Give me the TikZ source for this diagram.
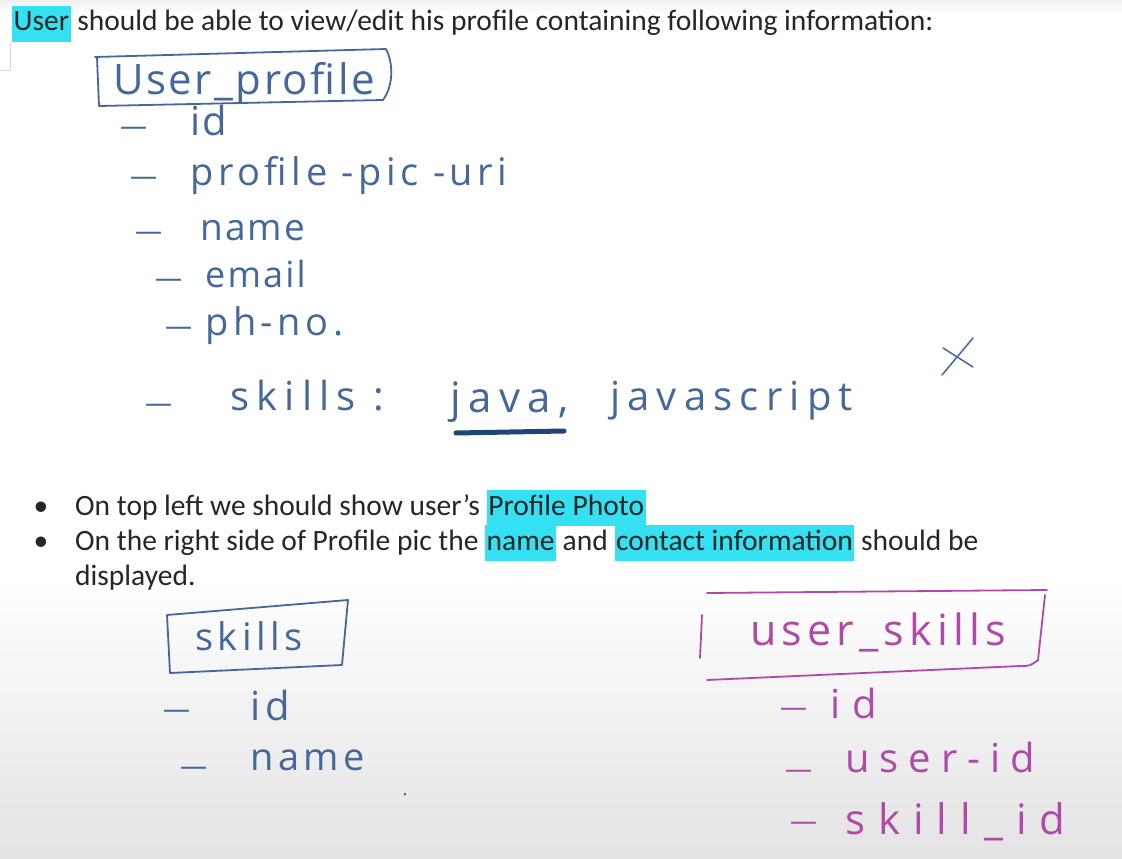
\documentclass[tikz,border=0pt]{standalone}
\usepackage{fontspec}
\setmainfont{Carlito}
\newfontfamily\handA[LetterSpace=6]{Open Sans}
\newfontfamily\handB[LetterSpace=12]{Open Sans}
\newfontfamily\handC[LetterSpace=18]{Open Sans}
\newfontfamily\handD[LetterSpace=25]{Open Sans}
\newfontfamily\handE[LetterSpace=31]{Open Sans}
\definecolor{inkb}{HTML}{45679A}
\definecolor{inkd}{HTML}{1E4674}
\definecolor{inkp}{HTML}{B04AA8}
\definecolor{hl}{HTML}{33E1F2}
\definecolor{txt}{HTML}{262626}
\newcommand\hlt[1]{{\setlength\fboxsep{1.5pt}\colorbox{hl}{\strut #1}}}
\newcommand\fs[1]{\fontsize{#1}{#1}\selectfont}
\tikzset{
  typed/.style={inner sep=0pt, anchor=base west, text=txt, font=\fontsize{29.5}{33}\selectfont},
  hb/.style={inner sep=0pt, anchor=base west, text=inkb},
  hp/.style={inner sep=0pt, anchor=base west, text=inkp},
  dashb/.style={hb, font=\handA\fs{27}},
  dashp/.style={hp, font=\handA\fs{27}},
  penb/.style={draw=inkb, line width=1.8pt, line cap=round, line join=round},
  penp/.style={draw=inkp, line width=1.8pt, line cap=round, line join=round},
}
\begin{document}
\begin{tikzpicture}[x=1pt,y=-1pt]
\useasboundingbox (0,0) rectangle (1122,859);
\fill[white] (0,0) rectangle (1122,859);
\shade[top color=black!6, bottom color=white] (0,0) rectangle (1122,14);
\shade[top color=white, bottom color=black!11] (0,575) rectangle (1122,859);
\draw[black!15, line width=0.8pt] (10,42) -- (10,70) -- (0,70);

% typed text
\node[typed] (l1) at (12,31) {\hlt{User} should be able to view/edit his profile containing following information:};
\node[typed, anchor=base] (d1) at (41,515) {\textbullet};
\node[typed] (t1) at (75,515) {On top left we should show user's \hlt{Profile Photo}};
\node[typed, anchor=base] (d2) at (41,550) {\textbullet};
\node[typed] (t2) at (75,550) {On the right side of Profile pic the \hlt{name} and \hlt{contact information} should be};
\node[typed] (t3) at (75,585) {displayed.};

% user_profile table
\draw[penb] (97,57) -- (99,106) -- (383,100) .. controls (394,85) and (393,62) .. (386,49) -- (95,57);
\node[hb, font=\handA\fs{42}] (up) at (113,94) {User\_profile};
\node[dashb] (k1) at (120,135) {—};
\node[hb, font=\handA\fs{40}] (f1) at (190,135) {id};
\node[dashb] (k2) at (130,185) {—};
\node[hb, font=\handB\fs{38}] (f2) at (190,185) {profile -pic -uri};
\node[dashb] (k3) at (135,240) {—};
\node[hb, font=\handA\fs{37}] (f3) at (200,240) {name};
\node[dashb] (k4) at (155,287) {—};
\node[hb, font=\handA\fs{36}] (f4) at (205,287) {email};
\node[dashb] (k5) at (165,335) {—};
\node[hb, font=\handB\fs{38}] (f5) at (205,335) {ph-no.};
\node[dashb] (k6) at (145,412) {—};
\node[hb, font=\handC\fs{40}] (f6) at (230,410) {skills :};
\node[hb, font=\handC\fs{42}] (f7) at (450,412) {java,};
\node[hb, font=\handC\fs{40}] (f8) at (610,410) {javascript};
\draw[draw=inkd, line width=5pt, line cap=round] (456,433) -- (564,431);
\draw[penb, line width=1.5pt] (942,375) -- (973,338);
\draw[penb, line width=1.5pt] (943,348) -- (973,367);

% skills table
\draw[penb] (167,615) -- (170,673) -- (342,665) -- (348,600) -- (167,615);
\node[hb, font=\handB\fs{38}] (s0) at (195,650) {skills};
\node[dashb] (j1) at (163,718) {—};
\node[hb, font=\handB\fs{40}] (s1) at (250,720) {id};
\node[dashb] (j2) at (180,775) {—};
\node[hb, font=\handB\fs{38}] (s2) at (250,770) {name};
\fill[inkb] (405,794) circle (1.5);

% user_skills table
\draw[penp] (707,593) -- (1047,590);
\draw[penp] (1045,595) -- (1038,660) .. controls (1030,666) .. (1020,666) -- (707,680);
\draw[penp] (702,615) -- (700,658);
\node[hp, font=\handB\fs{43}] (u0) at (750,645) {user\_skills};
\node[dashp] (m1) at (780,716) {—};
\node[hp, font=\handE\fs{40}] (u1) at (830,718) {id};
\node[dashp] (m2) at (785,778) {—};
\node[hp, font=\handD\fs{40}] (u2) at (845,772) {user-id};
\node[dashp] (m3) at (790,830) {—};
\node[hp, font=\handE\fs{42}] (u3) at (845,834) {skill\_id};
\end{tikzpicture}
\end{document}
